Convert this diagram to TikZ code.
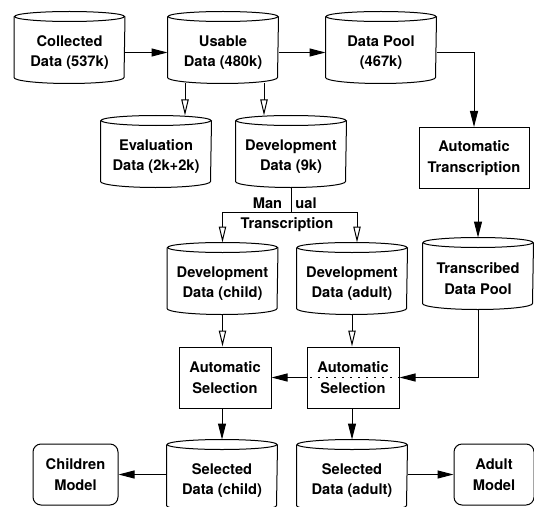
\documentclass[tikz,border=0pt]{standalone}
\usepackage{fontspec}
\setmainfont{TeX Gyre Heros}
\usetikzlibrary{arrows.meta}

% cylinder drawn round a text node: name, position, text
\newcommand{\datastore}[3]{%
  \node[storetext] (#1) at (#2) {#3};
  \draw ([yshift=3.75pt]#1.north west) -- ([yshift=4.5pt]#1.south west)
    arc[start angle=180, end angle=360, x radius=41.25pt, y radius=4.5pt]
    -- ([yshift=3.75pt]#1.north east);
  \draw ([yshift=3.75pt]#1.north) ellipse[x radius=41.25pt, y radius=3.75pt];
  \coordinate (#1 top) at ([yshift=7.5pt]#1.north);
}

\begin{document}
\begin{tikzpicture}[x=0.75pt, y=-0.75pt, line width=0.75pt,
  font=\bfseries\fontsize{11pt}{15.5pt}\selectfont,
  storetext/.style={minimum width=82.5pt, minimum height=45.75pt, inner sep=0pt, align=center},
  stepbox/.style={draw, align=center, inner sep=0pt, minimum height=45.75pt},
  solidarrow/.style={-{Triangle[length=12pt, width=6pt]}},
  openarrow/.style={-{Triangle[open, length=12pt, width=5.5pt]}}]
\useasboundingbox (0,0) rectangle (534,506);
\clip (0,0) rectangle (534,506);

\datastore{collected}{69.5,52.5}{Collected\\Data (537k)}
\datastore{usable}{223,52.5}{Usable\\Data (480k)}
\datastore{pool}{381,52.5}{Data Pool\\(467k)}
\datastore{eval}{156,156.5}{Evaluation\\Data (2k+2k)}
\datastore{dev}{291,156.5}{Development\\Data (9k)}
\datastore{devchild}{222.5,283.5}{Development\\Data (child)}
\datastore{devadult}{352,283.5}{Development\\Data (adult)}
\datastore{transcribed}{478,278.5}{Transcribed\\Data Pool}
\datastore{selchild}{222,480.5}{Selected\\Data (child)}
\datastore{seladult}{352,480.5}{Selected\\Data (adult)}

\node[stepbox, minimum width=82.5pt] (autotrans) at (474,158) {Automatic\\Transcription};
\node[stepbox, minimum width=69pt] (autochild) at (225,377.5) {Automatic\\Selection};
\node[stepbox, minimum width=69pt] (autoadult) at (353,377.5) {Automatic\\Selection};
\node[stepbox, rounded corners=6pt, minimum width=63.75pt] (childmodel) at (75.5,474.5) {Children\\Model};
\node[stepbox, rounded corners=6pt, minimum width=60pt] (adultmodel) at (494,474.5) {Adult\\Model};

\draw[solidarrow] (collected.east) -- (usable.west);
\draw[solidarrow] (usable.east) -- (pool.west);
\draw[solidarrow] (pool.east) -| (autotrans.north);
\draw[openarrow] ([xshift=-28.5pt]usable.south) -- ([xshift=-28.5pt]usable.south |- eval top);
\draw[openarrow] ([xshift=30.75pt]usable.south) -- ([xshift=30.75pt]usable.south |- dev top);

% manual transcription split
\coordinate (split) at ([yshift=-18.75pt]dev.south);
\draw (dev.south) -- (split);
\draw[openarrow] (split) -| (devchild top);
\draw[openarrow] (split) -| ([xshift=3.75pt]devadult top);
\node (man) at (267.5,203) {Man};
\node (ual) at (306,203) {ual};
\node (trans) at (287,225) {Transcription};

\draw[solidarrow] (autotrans.south -| transcribed top) -- (transcribed top);
\draw[openarrow] (devchild.south) -- (devchild.south |- autochild.north);
\draw[openarrow] (devadult.south) -- (devadult.south |- autoadult.north);
\draw[solidarrow] (transcribed.south) |- (autoadult.east);
\draw[dash pattern=on 1pt off 5pt, line width=0.9pt] (autoadult.east) -- (autoadult.west);
\draw[solidarrow] (autoadult.west) -- (autochild.east);
\draw[solidarrow] (autochild.south -| selchild top) -- (selchild top);
\draw[solidarrow] (autoadult.south -| seladult top) -- (seladult top);
\draw[solidarrow] (childmodel.east -| selchild.west) -- (childmodel.east);
\draw[solidarrow] (adultmodel.west -| seladult.east) -- (adultmodel.west);
\end{tikzpicture}
\end{document}
